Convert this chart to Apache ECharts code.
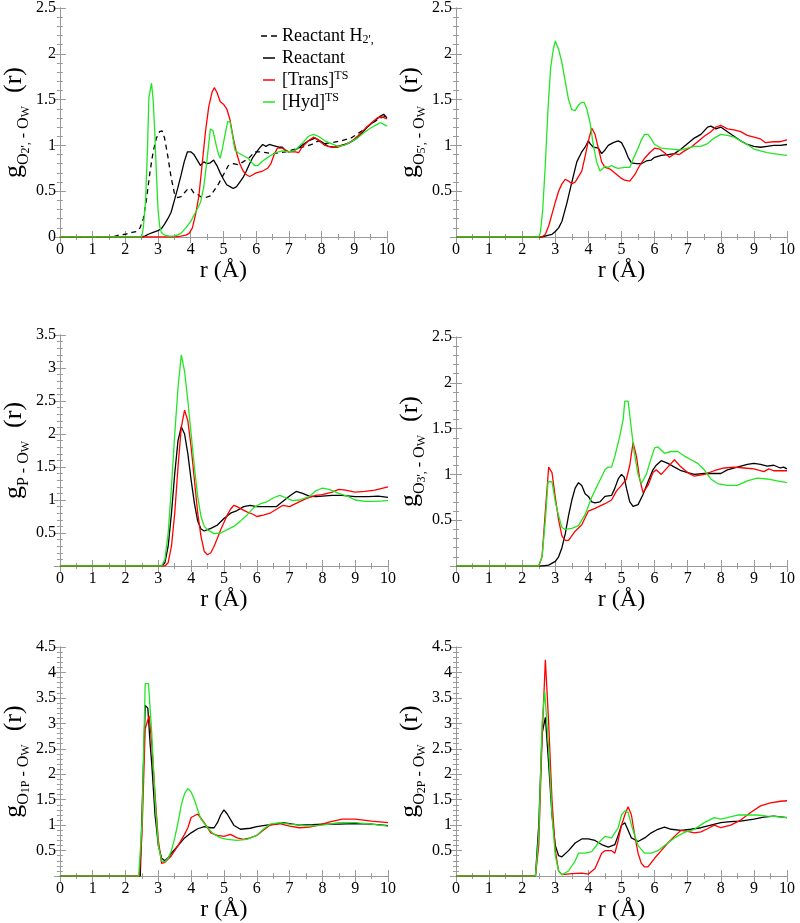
<!DOCTYPE html>
<html><head><meta charset="utf-8">
<script src="https://cdn.jsdelivr.net/npm/echarts@6/dist/echarts.min.js"></script>
<style>html,body{margin:0;padding:0;background:#fff}#c{width:800px;height:923px}</style>
</head><body><div id="c"></div>
<script>
// ---------- data (r in Å, g(r)) ----------
const seriesNames = ["Reactant H2'", "Reactant", "[Trans]TS", "[Hyd]TS"];
const yMaxes = [2.5, 2.5, 3.5, 2.5, 4.5, 4.5];
const xTickLabels = ['0','1','2','3','4','5','6','7','8','9','10'];

// Panel 1: g O2' - Ow
const p1_h2 = [[0,0],[1.6,0],[1.8,0.02],[2.0,0.03],[2.2,0.05],[2.35,0.06],[2.45,0.1],[2.55,0.2],[2.65,0.42],[2.75,0.7],[2.85,0.93],[2.95,1.08],[3.05,1.15],[3.12,1.16],[3.2,1.08],[3.3,0.88],[3.4,0.65],[3.5,0.48],[3.6,0.43],[3.7,0.44],[3.8,0.48],[3.9,0.52],[4.0,0.53],[4.1,0.48],[4.2,0.47],[4.3,0.44],[4.45,0.43],[4.6,0.45],[4.7,0.5],[4.85,0.58],[5.0,0.68],[5.15,0.78],[5.3,0.8],[5.45,0.79],[5.6,0.82],[5.8,0.87],[5.95,0.93],[6.1,0.93],[6.3,0.92],[6.5,0.91],[6.7,0.92],[6.9,0.93],[7.1,0.95],[7.4,0.98],[7.7,1.01],[7.9,1.05],[8.1,1.02],[8.3,1.03],[8.6,1.05],[8.9,1.08],[9.2,1.15],[9.5,1.23],[9.8,1.3],[10,1.32]];
const p1_re = [[0,0],[2.5,0],[2.6,0.01],[2.7,0.03],[2.85,0.05],[3.0,0.07],[3.1,0.09],[3.2,0.14],[3.3,0.2],[3.4,0.27],[3.5,0.4],[3.6,0.53],[3.7,0.67],[3.8,0.82],[3.9,0.93],[4.0,0.93],[4.1,0.9],[4.2,0.84],[4.3,0.78],[4.4,0.82],[4.5,0.8],[4.6,0.81],[4.7,0.84],[4.8,0.78],[4.9,0.7],[5.0,0.63],[5.1,0.57],[5.2,0.55],[5.3,0.53],[5.4,0.55],[5.5,0.6],[5.6,0.65],[5.7,0.72],[5.8,0.8],[5.9,0.87],[6.0,0.92],[6.1,0.97],[6.2,1.01],[6.3,0.99],[6.4,1.01],[6.5,1.0],[6.7,0.98],[6.8,0.98],[6.9,0.94],[7.0,0.93],[7.2,0.95],[7.4,1.0],[7.6,1.05],[7.8,1.08],[8.0,1.04],[8.2,0.99],[8.4,0.98],[8.6,1.0],[8.8,1.02],[9.0,1.06],[9.2,1.12],[9.4,1.2],[9.6,1.26],[9.8,1.32],[9.9,1.34],[10,1.3]];
const p1_tr = [[0,0],[3.5,0],[3.7,0.01],[3.85,0.02],[3.95,0.04],[4.05,0.1],[4.15,0.25],[4.25,0.45],[4.35,0.8],[4.45,1.15],[4.55,1.42],[4.65,1.58],[4.72,1.63],[4.8,1.58],[4.9,1.48],[5.0,1.45],[5.1,1.4],[5.2,1.28],[5.3,1.08],[5.4,0.92],[5.5,0.8],[5.6,0.72],[5.7,0.68],[5.8,0.66],[5.9,0.68],[6.0,0.7],[6.2,0.72],[6.35,0.75],[6.45,0.8],[6.55,0.9],[6.65,0.97],[6.8,0.97],[6.9,0.95],[7.0,0.93],[7.2,0.93],[7.3,0.92],[7.4,0.98],[7.6,1.05],[7.75,1.09],[7.9,1.06],[8.1,1.0],[8.3,0.98],[8.5,0.98],[8.7,1.01],[8.9,1.04],[9.1,1.1],[9.3,1.17],[9.5,1.24],[9.7,1.3],[9.85,1.31],[10,1.29]];
const p1_hy = [[0,0],[2.5,0],[2.55,0.1],[2.62,0.4],[2.68,1.0],[2.72,1.52],[2.8,1.68],[2.85,1.5],[2.9,1.15],[2.95,0.7],[3.0,0.3],[3.05,0.12],[3.1,0.05],[3.2,0.02],[3.35,0.01],[3.5,0.01],[3.7,0.04],[3.85,0.1],[4.0,0.17],[4.15,0.27],[4.3,0.38],[4.4,0.55],[4.5,0.85],[4.6,1.18],[4.68,1.16],[4.78,1.0],[4.85,0.9],[4.9,0.86],[4.97,0.97],[5.05,1.12],[5.13,1.26],[5.2,1.26],[5.28,1.1],[5.35,0.95],[5.45,0.92],[5.6,0.89],[5.75,0.86],[5.85,0.82],[5.95,0.78],[6.05,0.78],[6.2,0.83],[6.4,0.88],[6.6,0.92],[6.8,0.94],[7.0,0.93],[7.2,0.95],[7.4,1.02],[7.6,1.1],[7.75,1.12],[7.9,1.1],[8.1,1.05],[8.3,1.02],[8.5,0.99],[8.7,1.0],[8.9,1.04],[9.1,1.08],[9.3,1.14],[9.5,1.19],[9.7,1.23],[9.8,1.25],[9.9,1.23],[10,1.21]];

// Panel 2: g O5' - Ow
const p2_re = [[0,0],[2.6,0],[2.8,0.02],[2.9,0.03],[3.0,0.06],[3.1,0.1],[3.2,0.17],[3.35,0.37],[3.5,0.6],[3.65,0.82],[3.8,0.93],[3.9,0.98],[4.0,1.05],[4.05,1.02],[4.15,0.98],[4.3,0.97],[4.4,0.91],[4.5,0.95],[4.6,1.0],[4.75,1.03],[4.9,1.05],[5.0,1.03],[5.1,0.96],[5.2,0.87],[5.3,0.81],[5.45,0.8],[5.6,0.8],[5.75,0.83],[5.9,0.84],[6.0,0.87],[6.2,0.89],[6.4,0.9],[6.6,0.91],[6.8,0.96],[7.0,1.02],[7.2,1.08],[7.4,1.12],[7.6,1.2],[7.7,1.21],[7.85,1.18],[8.0,1.2],[8.2,1.15],[8.4,1.1],[8.6,1.05],[8.8,1.01],[9.0,0.99],[9.2,0.98],[9.4,0.99],[9.6,1.0],[9.8,1.0],[10,1.01]];
const p2_tr = [[0,0],[2.6,0],[2.7,0.03],[2.8,0.12],[2.9,0.25],[3.0,0.38],[3.1,0.5],[3.2,0.58],[3.3,0.63],[3.4,0.61],[3.5,0.58],[3.6,0.6],[3.7,0.66],[3.8,0.72],[3.9,0.88],[4.0,1.05],[4.1,1.19],[4.2,1.12],[4.3,0.97],[4.4,0.82],[4.5,0.76],[4.6,0.75],[4.7,0.73],[4.8,0.7],[4.9,0.67],[5.0,0.64],[5.1,0.62],[5.25,0.61],[5.4,0.68],[5.55,0.78],[5.7,0.86],[5.85,0.92],[6.0,0.97],[6.15,0.96],[6.3,0.92],[6.45,0.87],[6.6,0.91],[6.75,0.9],[6.9,0.94],[7.1,0.98],[7.3,1.04],[7.5,1.1],[7.7,1.15],[7.85,1.2],[8.0,1.22],[8.2,1.18],[8.4,1.17],[8.6,1.15],[8.8,1.11],[9.0,1.09],[9.2,1.07],[9.35,1.03],[9.6,1.04],[9.8,1.04],[10,1.06]];
const p2_hy = [[0,0],[2.5,0],[2.55,0.05],[2.62,0.3],[2.7,0.8],[2.78,1.4],[2.86,1.85],[2.94,2.05],[3.0,2.14],[3.1,2.05],[3.2,1.9],[3.3,1.7],[3.4,1.5],[3.5,1.39],[3.6,1.38],[3.7,1.44],[3.8,1.47],[3.87,1.47],[3.95,1.4],[4.05,1.25],[4.15,1.0],[4.25,0.82],[4.35,0.72],[4.4,0.7],[4.5,0.77],[4.6,0.76],[4.7,0.78],[4.8,0.76],[4.9,0.75],[5.1,0.76],[5.25,0.76],[5.35,0.85],[5.5,0.97],[5.6,1.06],[5.7,1.12],[5.8,1.12],[5.9,1.07],[6.0,1.01],[6.2,0.97],[6.5,0.96],[6.8,0.95],[7.0,0.97],[7.2,0.99],[7.4,0.99],[7.6,1.02],[7.8,1.08],[8.0,1.12],[8.2,1.11],[8.4,1.09],[8.6,1.05],[8.8,1.01],[9.0,0.96],[9.2,0.94],[9.4,0.92],[9.6,0.91],[9.8,0.9],[10,0.89]];

// Panel 3: g P - Ow
const p3_re = [[0,0],[3.1,0],[3.2,0.05],[3.3,0.3],[3.4,0.8],[3.5,1.4],[3.6,1.9],[3.7,2.11],[3.8,2.0],[3.9,1.7],[4.0,1.3],[4.1,0.95],[4.2,0.68],[4.3,0.56],[4.4,0.53],[4.5,0.55],[4.6,0.57],[4.8,0.62],[5.0,0.72],[5.2,0.8],[5.4,0.84],[5.6,0.9],[5.8,0.92],[6.0,0.9],[6.2,0.9],[6.4,0.9],[6.6,0.9],[6.8,0.98],[7.0,1.06],[7.2,1.13],[7.4,1.1],[7.6,1.06],[7.8,1.05],[8.0,1.06],[8.3,1.07],[8.6,1.07],[9.0,1.05],[9.4,1.05],[9.7,1.06],[10,1.04]];
const p3_tr = [[0,0],[3.2,0],[3.3,0.05],[3.4,0.3],[3.5,0.8],[3.6,1.5],[3.7,2.1],[3.8,2.36],[3.9,2.2],[4.0,1.8],[4.1,1.3],[4.2,0.8],[4.3,0.45],[4.4,0.22],[4.5,0.17],[4.6,0.2],[4.7,0.3],[4.8,0.42],[4.9,0.55],[5.0,0.66],[5.1,0.77],[5.2,0.86],[5.3,0.92],[5.4,0.9],[5.5,0.87],[5.7,0.82],[5.9,0.78],[6.0,0.75],[6.2,0.77],[6.4,0.8],[6.6,0.86],[6.8,0.92],[7.0,0.9],[7.2,0.95],[7.5,1.02],[7.8,1.07],[8.0,1.08],[8.3,1.12],[8.5,1.16],[8.7,1.15],[9.0,1.12],[9.3,1.13],[9.6,1.15],[10,1.2]];
const p3_hy = [[0,0],[3.1,0],[3.2,0.1],[3.3,0.5],[3.4,1.2],[3.5,2.0],[3.6,2.7],[3.7,3.2],[3.8,2.95],[3.9,2.5],[4.0,2.0],[4.1,1.5],[4.2,1.05],[4.3,0.75],[4.4,0.6],[4.5,0.55],[4.6,0.52],[4.7,0.49],[4.9,0.5],[5.1,0.55],[5.3,0.6],[5.5,0.68],[5.7,0.77],[5.9,0.88],[6.1,0.94],[6.3,0.97],[6.5,1.03],[6.7,1.07],[6.9,1.03],[7.1,0.99],[7.3,1.0],[7.6,1.05],[7.8,1.14],[8.0,1.18],[8.2,1.16],[8.5,1.1],[8.8,1.05],[9.0,1.0],[9.3,0.98],[9.6,0.98],[10,0.99]];

// Panel 4: g O3' - Ow
const p4_re = [[0,0],[2.6,0],[2.8,0.01],[3.0,0.05],[3.1,0.1],[3.2,0.2],[3.3,0.35],[3.4,0.55],[3.5,0.72],[3.6,0.85],[3.7,0.91],[3.8,0.88],[3.9,0.79],[4.0,0.76],[4.1,0.7],[4.2,0.69],[4.35,0.7],[4.5,0.76],[4.7,0.77],[4.8,0.85],[4.9,0.95],[5.0,1.0],[5.08,0.97],[5.15,0.85],[5.25,0.7],[5.35,0.65],[5.5,0.67],[5.65,0.78],[5.8,0.92],[5.95,1.05],[6.05,1.1],[6.2,1.15],[6.4,1.12],[6.6,1.08],[6.8,1.04],[7.0,1.02],[7.2,1.0],[7.5,1.01],[7.8,1.01],[8.0,1.01],[8.2,1.05],[8.5,1.08],[8.8,1.11],[9.0,1.12],[9.2,1.11],[9.4,1.09],[9.6,1.1],[9.8,1.07],[9.9,1.08],[10,1.06]];
const p4_tr = [[0,0],[2.5,0],[2.6,0.1],[2.7,0.6],[2.8,1.08],[2.9,1.02],[3.0,0.75],[3.1,0.5],[3.2,0.33],[3.3,0.28],[3.4,0.28],[3.6,0.38],[3.8,0.45],[4.0,0.6],[4.2,0.63],[4.5,0.68],[4.7,0.72],[4.85,0.82],[5.0,0.88],[5.15,0.95],[5.25,1.1],[5.35,1.35],[5.45,1.2],[5.55,0.95],[5.65,0.8],[5.8,0.88],[5.95,1.02],[6.05,1.05],[6.2,1.0],[6.4,1.08],[6.6,1.16],[6.8,1.08],[7.0,1.02],[7.2,0.98],[7.5,1.0],[7.8,1.04],[8.1,1.07],[8.4,1.08],[8.7,1.07],[9.0,1.06],[9.3,1.03],[9.45,1.06],[9.6,1.04],[10,1.04]];
const p4_hy = [[0,0],[2.5,0],[2.6,0.1],[2.7,0.5],[2.78,0.92],[2.9,0.92],[3.0,0.7],[3.1,0.55],[3.2,0.42],[3.3,0.4],[3.5,0.41],[3.7,0.44],[3.9,0.56],[4.1,0.75],[4.3,0.9],[4.5,1.05],[4.6,1.08],[4.7,1.08],[4.8,1.2],[4.95,1.42],[5.05,1.6],[5.1,1.8],[5.2,1.8],[5.28,1.55],[5.38,1.25],[5.5,1.0],[5.6,0.9],[5.75,1.0],[5.9,1.18],[6.0,1.29],[6.1,1.3],[6.3,1.23],[6.5,1.25],[6.7,1.25],[6.9,1.2],[7.1,1.16],[7.3,1.12],[7.5,1.05],[7.7,0.95],[7.9,0.9],[8.2,0.88],[8.5,0.88],[8.8,0.93],[9.1,0.96],[9.4,0.95],[9.7,0.93],[10,0.91]];

// Panel 5: g O1P - Ow
const p5_re = [[0,0],[2.45,0],[2.5,1.2],[2.6,3.35],[2.68,3.3],[2.75,2.6],[2.8,2.2],[2.9,1.2],[3.0,0.6],[3.1,0.35],[3.2,0.3],[3.3,0.36],[3.4,0.45],[3.6,0.6],[3.8,0.75],[4.0,0.85],[4.2,0.93],[4.4,0.97],[4.6,0.95],[4.7,0.95],[4.8,1.05],[4.9,1.2],[5.0,1.3],[5.1,1.22],[5.3,1.0],[5.5,0.92],[5.8,0.94],[6.0,0.97],[6.3,1.0],[6.6,1.02],[6.8,1.05],[7.0,1.03],[7.3,1.0],[7.7,1.01],[8.0,1.02],[8.5,1.02],[9.0,1.03],[9.5,1.02],[10,0.99]];
const p5_tr = [[0,0],[2.42,0],[2.5,0.8],[2.6,2.9],[2.72,3.15],[2.8,2.6],[2.9,1.6],[3.0,0.7],[3.1,0.25],[3.2,0.27],[3.4,0.4],[3.6,0.6],[3.8,0.82],[3.9,0.95],[4.0,1.15],[4.2,1.22],[4.4,1.05],[4.6,0.85],[4.8,0.8],[5.0,0.78],[5.2,0.82],[5.4,0.75],[5.6,0.72],[5.8,0.75],[6.0,0.8],[6.2,0.9],[6.4,1.0],[6.7,1.03],[7.0,0.98],[7.3,0.95],[7.6,0.96],[7.9,1.0],[8.2,1.06],[8.6,1.12],[9.0,1.12],[9.5,1.08],[10,1.05]];
const p5_hy = [[0,0],[2.4,0],[2.5,1.0],[2.6,3.78],[2.7,3.78],[2.8,2.8],[2.9,1.5],[3.0,0.6],[3.1,0.3],[3.2,0.28],[3.3,0.35],[3.4,0.5],[3.5,0.75],[3.6,1.05],[3.7,1.4],[3.8,1.62],[3.9,1.72],[4.0,1.65],[4.1,1.5],[4.2,1.3],[4.3,1.12],[4.5,0.95],[4.7,0.82],[4.9,0.75],[5.1,0.72],[5.4,0.7],[5.7,0.72],[6.0,0.8],[6.2,0.92],[6.4,1.02],[6.7,1.05],[7.0,1.02],[7.3,1.0],[7.6,0.98],[8.0,1.0],[8.5,1.05],[9.0,1.05],[9.5,1.02],[10,0.98]];

// Panel 6: g O2P - Ow
const p6_re = [[0,0],[2.4,0],[2.5,1.0],[2.6,2.8],[2.7,3.12],[2.8,2.2],[2.9,1.2],[3.0,0.6],[3.1,0.4],[3.2,0.38],[3.4,0.5],[3.6,0.65],[3.8,0.73],[4.0,0.73],[4.2,0.7],[4.4,0.62],[4.6,0.57],[4.8,0.62],[4.9,0.8],[5.0,1.0],[5.1,1.05],[5.2,0.9],[5.3,0.75],[5.5,0.68],[5.7,0.75],[5.9,0.85],[6.1,0.92],[6.3,0.96],[6.5,0.92],[6.8,0.9],[7.1,0.92],[7.4,0.95],[7.7,1.0],[8.0,1.05],[8.3,1.07],[8.6,1.08],[9.0,1.12],[9.3,1.16],[9.6,1.18],[10,1.15]];
const p6_tr = [[0,0],[2.4,0],[2.5,0.6],[2.6,2.7],[2.7,4.25],[2.8,3.0],[2.9,1.5],[3.0,0.5],[3.1,0.1],[3.2,0.03],[3.5,0.05],[3.8,0.06],[4.0,0.04],[4.2,0.15],[4.4,0.45],[4.5,0.5],[4.7,0.5],[4.8,0.45],[4.9,0.7],[5.0,1.0],[5.1,1.2],[5.2,1.36],[5.3,1.2],[5.4,0.8],[5.5,0.45],[5.6,0.25],[5.7,0.18],[5.8,0.18],[6.0,0.35],[6.2,0.5],[6.4,0.65],[6.6,0.78],[6.8,0.9],[7.0,0.88],[7.2,0.85],[7.4,0.87],[7.6,0.93],[7.8,1.0],[8.0,0.95],[8.3,1.0],[8.6,1.1],[8.9,1.25],[9.2,1.38],[9.5,1.44],[9.8,1.47],[10,1.48]];
const p6_hy = [[0,0],[2.4,0],[2.5,0.8],[2.6,3.0],[2.68,3.63],[2.8,2.5],[2.9,1.2],[3.0,0.4],[3.1,0.1],[3.2,0.03],[3.4,0.1],[3.6,0.3],[3.7,0.45],[3.9,0.45],[4.1,0.48],[4.3,0.65],[4.5,0.78],[4.7,0.75],[4.9,0.95],[5.0,1.2],[5.1,1.28],[5.2,1.25],[5.3,1.0],[5.5,0.6],[5.7,0.45],[5.9,0.45],[6.1,0.5],[6.3,0.6],[6.6,0.75],[6.9,0.86],[7.2,0.92],[7.5,1.05],[7.8,1.15],[8.0,1.12],[8.2,1.15],[8.5,1.2],[8.8,1.2],[9.1,1.2],[9.4,1.18],[9.7,1.17],[10,1.15]];

// y-axis title subscripts per panel: [subscript atom, sub-subscript index]
const yTitleAtoms = [['O',"2',"],['O',"5',"],['P',''],['O',"3',"],['O','1P'],['O','2P']];

// ---------- layout ----------
const panelSeries = [
  [p1_h2, p1_re, p1_tr, p1_hy],
  [null, p2_re, p2_tr, p2_hy],
  [null, p3_re, p3_tr, p3_hy],
  [null, p4_re, p4_tr, p4_hy],
  [null, p5_re, p5_tr, p5_hy],
  [null, p6_re, p6_tr, p6_hy]
];
const gridBoxes = [[58,8,329,229],[456,8,331,229],[58,335,330,231],[456,337,331,229],[58,647,330,231],[456,647,331,231]];
const colors = ['#000000','#000000','#ff0000','#22e622'];
const FONT = 'Liberation Serif';
const FRAME = '#9a9a9a';

const grid = [], xAxis = [], yAxis = [], series = [];
const tickRich = {t: {fontFamily: FONT, fontSize: 16, color: '#000'}};
const richY = {
  g: {fontFamily: FONT, fontSize: 26, lineHeight: 36, color: '#000'},
  s: {fontFamily: FONT, fontSize: 16, lineHeight: 14, verticalAlign: 'bottom', color: '#000'},
  ss: {fontFamily: FONT, fontSize: 12, lineHeight: 6, verticalAlign: 'bottom', color: '#000'}
};
gridBoxes.forEach((b, i) => {
  grid.push({left: b[0], top: b[1], width: b[2], height: b[3], containLabel: false});
  const common = {
    gridIndex: i, type: 'value', min: 0, max: 10, interval: 1,
    axisLine: {show: true, lineStyle: {color: FRAME, width: 1}},
    axisTick: {show: true, inside: true, length: 6, lineStyle: {color: FRAME}},
    minorTick: {show: true, splitNumber: 2, length: 3, lineStyle: {color: FRAME}},
    splitLine: {show: false}
  };
  xAxis.push(Object.assign({}, common, {
    position: 'bottom',
    axisLabel: {color: '#000', fontFamily: FONT, fontSize: 16, margin: 5, rich: tickRich,
      formatter: v => '{t|' + xTickLabels[Math.round(v)] + '}'},
    name: 'r (Å)', nameLocation: 'middle', nameGap: 19,
    nameTextStyle: {color: '#000', fontFamily: FONT, fontSize: 24}
  }));
  xAxis.push(Object.assign({}, common, {position: 'top', axisLabel: {show: false}}));
  const ymax = yMaxes[i];
  const ycommon = {
    gridIndex: i, type: 'value', min: 0, max: ymax, interval: 0.5,
    axisLine: {show: true, lineStyle: {color: FRAME, width: 1}},
    axisTick: {show: true, inside: true, length: 6, lineStyle: {color: FRAME}},
    minorTick: {show: true, splitNumber: 5, length: 3, lineStyle: {color: FRAME}},
    splitLine: {show: false}
  };
  const at = yTitleAtoms[i];
  let nm;
  if (at[1]) nm = '{g|g}{s|' + at[0] + '}{ss|' + at[1] + '}{s| - O}{ss|W}{g|  (r)}';
  else nm = '{g|g}{s|' + at[0] + ' - O}{ss|W}{g|  (r)}';
  yAxis.push(Object.assign({}, ycommon, {
    position: 'left',
    axisLabel: {color: '#000', fontFamily: FONT, fontSize: 16, margin: 4, rich: tickRich,
      formatter: v => (v === 0 && i !== 0) ? '' : '{t|' + String(v) + '}'},
    name: nm, nameLocation: 'middle', nameGap: 26, nameRotate: 90,
    nameTextStyle: {rich: richY, fontFamily: FONT}
  }));
  yAxis.push(Object.assign({}, ycommon, {position: 'right', axisLabel: {show: false}}));
  panelSeries[i].forEach((d, k) => {
    if (!d) return;
    series.push({
      name: seriesNames[k], type: 'line', xAxisIndex: 2 * i, yAxisIndex: 2 * i,
      data: d, showSymbol: false, symbol: 'none', smooth: false, clip: true,
      lineStyle: {color: colors[k], width: 1.3, type: k === 0 ? [5, 4] : 'solid'},
      itemStyle: {color: colors[k]},
      animation: false, silent: true
    });
  });
});

const legendRich = {
  n: {fontFamily: FONT, fontSize: 18, lineHeight: 20, color: '#000'},
  sub: {fontFamily: FONT, fontSize: 12, lineHeight: 6, verticalAlign: 'bottom', color: '#000'},
  sup: {fontFamily: FONT, fontSize: 12, lineHeight: 6, verticalAlign: 'top', color: '#000'}
};
const legendFmt = {
  "Reactant H2'": "{n|Reactant H}{sub|2',}",
  "Reactant": "{n|Reactant}",
  "[Trans]TS": "{n|[Trans]}{sup|TS}",
  "[Hyd]TS": "{n|[Hyd]}{sup|TS}"
};
const legendIcons = [
  'path://M0 0H6V1.5H0Z M10 0H16V1.5H10Z',
  'path://M4 0H16V1.5H4Z',
  'path://M4 0H16V1.5H4Z',
  'path://M4 0H16V1.5H4Z'
];

const chart = echarts.init(document.getElementById('c'), null, {renderer: 'canvas'});
chart.setOption({
  backgroundColor: '#fff',
  animation: false,
  textStyle: {fontFamily: FONT},
  grid, xAxis, yAxis, series,
  legend: {
    data: seriesNames.map((n, k) => ({name: n, icon: legendIcons[k]})),
    orient: 'vertical', left: 256, top: 22, itemGap: 3,
    itemWidth: 16, itemHeight: 1.5, selectedMode: false,
    formatter: n => legendFmt[n],
    textStyle: {rich: legendRich, fontFamily: FONT, fontSize: 18}
  }
});
</script></body></html>
